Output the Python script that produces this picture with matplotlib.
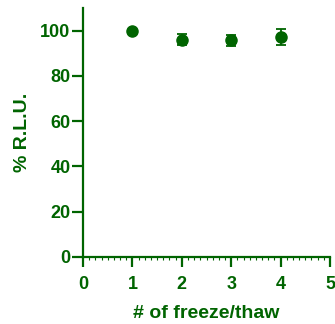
import matplotlib
matplotlib.use("Agg")
import matplotlib.pyplot as plt
from matplotlib.ticker import MultipleLocator

# data
cycles = [1, 2, 3, 4]
rlu_pct = [100.0, 96.1, 95.7, 97.2]
rlu_err = [0.0, 2.5, 2.5, 3.4]

green = "#006400"

plt.rcParams['font.family'] = ['Liberation Sans', 'DejaVu Sans']
plt.rcParams['font.weight'] = 'bold'

fig = plt.figure(figsize=(3.35, 3.24), dpi=100)
ax = fig.add_axes([0.248, 0.207, 0.737, 0.768])

ax.errorbar(cycles, rlu_pct, yerr=rlu_err, fmt='o', color=green,
            markersize=8, elinewidth=1.3, capsize=3.6, capthick=1.3,
            clip_on=False, zorder=3)

ax.set_xlim(0, 5)
ax.set_ylim(0, 110)
ax.xaxis.set_major_locator(MultipleLocator(1))
ax.xaxis.set_minor_locator(MultipleLocator(0.125))
ax.yaxis.set_major_locator(MultipleLocator(20))

for side in ['top', 'right']:
    ax.spines[side].set_visible(False)
for side in ['left', 'bottom']:
    ax.spines[side].set_color(green)
    ax.spines[side].set_linewidth(1.6)

ax.tick_params(axis='x', which='major', colors=green, width=1.6,
               length=7, labelsize=13, pad=6.5)
ax.tick_params(axis='y', which='major', colors=green, width=1.6,
               length=8, labelsize=13, pad=1)
ax.tick_params(axis='x', which='minor', colors=green, width=0.8, length=2)
for lbl in ax.get_xticklabels() + ax.get_yticklabels():
    lbl.set_fontweight('bold')

ax.set_xlabel('# of freeze/thaw', color=green, fontsize=14, fontweight='bold', labelpad=9)
ax.set_ylabel('% R.L.U.', color=green, fontsize=14, fontweight='bold', labelpad=7)

fig.savefig('out.png', dpi=100)
